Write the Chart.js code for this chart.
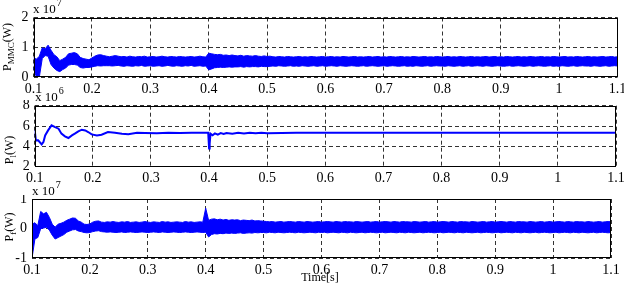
<!DOCTYPE html>
<html>
<head>
<meta charset="utf-8">
<script src="https://cdn.jsdelivr.net/npm/chart.js@4/dist/chart.umd.min.js"></script>
<style>
  html, body { margin: 0; padding: 0; background: #fff; }
  body { width: 624px; height: 284px; position: relative; overflow: hidden; font-family: 'Liberation Serif', 'Times New Roman', serif; }
  .cv { position: absolute; left: 0; }
  .txt { position: absolute; white-space: nowrap; color: #000; font-family: 'Liberation Serif', serif; }
  .rot { transform: translate(-50%, -50%) rotate(-90deg); font-size: 12px; }
  .rot sub { font-size: 9px; vertical-align: -3px; }
  .mul { font-size: 13px; line-height: 13px; }
  .mul span { font-size: 10px; position: relative; top: -7px; margin-left: 1px; }
</style>
</head>
<body>
<canvas id="c1" class="cv" width="624" height="100" style="top:0px"></canvas>
<canvas id="c2" class="cv" width="624" height="95" style="top:100px"></canvas>
<canvas id="c3" class="cv" width="624" height="89" style="top:195px"></canvas>

<div class="txt mul" style="left:33px;top:2px">x 10<span>7</span></div>
<div class="txt mul" style="left:35px;top:90px">x 10<span>6</span></div>
<div class="txt mul" style="left:32px;top:184px">x 10<span>7</span></div>

<div class="txt rot" style="left:8px;top:47px">P<sub>MMC</sub>(W)</div>
<div class="txt rot" style="left:10px;top:150px">P<sub>l</sub>(W)</div>
<div class="txt rot" style="left:10px;top:227px">P<sub>f</sub>(W)</div>

<div class="txt" style="left:320px;top:277px;transform:translate(-50%,-50%);font-size:12px">Time[s]</div>

<script>
// ---------------- data ----------------
const xTickValues = [0.1, 0.2, 0.3, 0.4, 0.5, 0.6, 0.7, 0.8, 0.9, 1.0, 1.1];
const xTickLabels = ['0.1', '0.2', '0.3', '0.4', '0.5', '0.6', '0.7', '0.8', '0.9', '1', '1.1'];

const topYTicks = [0, 1, 2];
const midYTicks = [2, 4, 6, 8];
const botYTicks = [-1, 0, 1];

// envelope series sampled every 5 ms from 0.1 s to 1.1 s
const sampleStart = 0.1;
const sampleStep = 0.005;

// P_MMC (x 10^7 W) : upper / lower envelope of the fast oscillation
const pmmcUpper = [
  0.65,0.60,0.70,0.98,0.95,1.07,0.90,0.75,0.68,0.55,
  0.60,0.66,0.78,0.80,0.82,0.78,0.66,0.62,0.60,0.58,
  0.64,0.70,0.74,0.75,0.72,0.70,0.68,0.70,0.72,0.70,
  0.68,0.69,0.67,0.70,0.68,0.67,0.69,0.68,0.70,0.67,
  0.68,0.69,0.67,0.68,0.70,0.68,0.67,0.69,0.68,0.67,
  0.69,0.68,0.67,0.68,0.69,0.67,0.68,0.70,0.68,0.67,
  0.80,0.78,0.76,0.75,0.76,0.73,0.74,0.72,0.74,0.72,
  0.71,0.73,0.70,0.72,0.71,0.70,0.72,0.70,0.69,0.71,
  0.69,0.70,0.68,0.67,0.69,0.68,0.67,0.69,0.68,0.67,
  0.68,0.69,0.67,0.68,0.67,0.69,0.68,0.67,0.68,0.69,
  0.67,0.68,0.69,0.67,0.68,0.67,0.69,0.68,0.67,0.68,
  0.69,0.67,0.68,0.67,0.68,0.69,0.67,0.68,0.69,0.67,
  0.68,0.67,0.69,0.68,0.67,0.68,0.69,0.67,0.68,0.67,
  0.69,0.68,0.67,0.68,0.69,0.67,0.68,0.67,0.69,0.68,
  0.67,0.68,0.69,0.67,0.68,0.67,0.69,0.68,0.67,0.68,
  0.69,0.67,0.68,0.67,0.68,0.69,0.67,0.68,0.69,0.67,
  0.68,0.67,0.69,0.68,0.67,0.68,0.69,0.67,0.68,0.67,
  0.69,0.68,0.67,0.68,0.69,0.67,0.68,0.67,0.69,0.68,
  0.67,0.68,0.69,0.67,0.68,0.67,0.69,0.68,0.67,0.68,
  0.69,0.67,0.68,0.67,0.68,0.69,0.67,0.68,0.69,0.67,
  0.68
];
const pmmcLower = [
  0.30,0.00,0.00,0.62,0.72,0.70,0.42,0.30,0.22,0.18,
  0.25,0.30,0.40,0.42,0.42,0.40,0.32,0.30,0.32,0.32,
  0.34,0.36,0.38,0.37,0.38,0.38,0.38,0.37,0.38,0.39,
  0.37,0.36,0.38,0.37,0.36,0.38,0.37,0.39,0.36,0.37,
  0.38,0.36,0.37,0.38,0.36,0.37,0.39,0.37,0.36,0.38,
  0.37,0.36,0.38,0.37,0.39,0.36,0.37,0.38,0.36,0.37,
  0.24,0.27,0.31,0.32,0.33,0.32,0.33,0.34,0.33,0.34,
  0.34,0.35,0.33,0.35,0.34,0.35,0.35,0.34,0.36,0.35,
  0.35,0.36,0.37,0.36,0.38,0.37,0.36,0.37,0.38,0.36,
  0.37,0.36,0.38,0.37,0.36,0.37,0.38,0.36,0.37,0.38,
  0.36,0.37,0.38,0.37,0.36,0.38,0.37,0.36,0.37,0.38,
  0.37,0.36,0.37,0.38,0.36,0.37,0.38,0.37,0.36,0.37,
  0.38,0.36,0.37,0.38,0.37,0.36,0.37,0.38,0.36,0.37,
  0.36,0.38,0.37,0.36,0.37,0.38,0.36,0.37,0.38,0.37,
  0.37,0.36,0.38,0.37,0.36,0.37,0.38,0.36,0.37,0.38,
  0.36,0.37,0.38,0.37,0.36,0.38,0.37,0.36,0.37,0.38,
  0.37,0.36,0.37,0.38,0.36,0.37,0.38,0.37,0.36,0.37,
  0.38,0.36,0.37,0.38,0.37,0.36,0.37,0.38,0.36,0.37,
  0.36,0.38,0.37,0.36,0.37,0.38,0.36,0.37,0.38,0.37,
  0.37,0.36,0.38,0.37,0.36,0.37,0.38,0.36,0.37,0.38,
  0.37
];

// P_l (x 10^6 W) : load power, smooth trace
const plTimes = [
  0.100,0.102,0.106,0.112,0.115,0.118,0.123,0.129,0.135,0.141,
  0.146,0.152,0.158,0.164,0.169,0.175,0.181,0.187,0.192,0.198,
  0.207,0.215,0.226,0.238,0.250,0.261,0.276,0.290,0.310,0.330,
  0.350,0.370,0.390,0.3985,0.400,0.4010,0.4025,0.406,0.410,0.415,
  0.420,0.425,0.430,0.440,0.450,0.460,0.470,0.480,0.490,0.500,
  0.550,0.600,0.700,0.800,0.900,1.000,1.100
];
const plValues = [
  5.60,4.59,4.60,4.20,4.43,5.08,5.57,6.07,5.90,5.74,
  5.25,4.98,4.82,5.08,5.25,5.48,5.64,5.57,5.41,5.18,
  5.08,5.15,5.41,5.34,5.25,5.20,5.34,5.32,5.30,5.33,
  5.32,5.33,5.33,5.33,3.80,4.30,5.25,5.10,5.28,5.15,
  5.30,5.22,5.32,5.25,5.33,5.27,5.34,5.28,5.33,5.30,
  5.33,5.33,5.33,5.33,5.33,5.33,5.33
];

// P_f (x 10^7 W) : upper / lower envelope
const pfUpper = [
  0.15,0.20,0.10,0.58,0.50,0.55,0.38,0.15,0.05,0.15,
  0.18,0.22,0.28,0.32,0.36,0.35,0.26,0.22,0.15,0.14,
  0.16,0.22,0.25,0.26,0.22,0.21,0.23,0.22,0.24,0.22,
  0.21,0.23,0.22,0.24,0.21,0.22,0.23,0.21,0.22,0.24,
  0.22,0.21,0.23,0.22,0.21,0.24,0.22,0.23,0.21,0.22,
  0.23,0.22,0.21,0.24,0.22,0.23,0.21,0.22,0.23,0.22,
  0.69,0.28,0.32,0.33,0.30,0.32,0.29,0.31,0.28,0.30,
  0.29,0.30,0.27,0.29,0.28,0.27,0.29,0.26,0.27,0.26,
  0.25,0.24,0.23,0.24,0.22,0.23,0.24,0.22,0.23,0.24,
  0.23,0.22,0.24,0.23,0.22,0.24,0.23,0.22,0.23,0.24,
  0.22,0.23,0.24,0.23,0.22,0.24,0.23,0.22,0.24,0.23,
  0.23,0.22,0.24,0.23,0.22,0.23,0.24,0.22,0.23,0.24,
  0.22,0.23,0.24,0.23,0.22,0.24,0.23,0.22,0.24,0.23,
  0.23,0.22,0.24,0.23,0.22,0.23,0.24,0.22,0.23,0.24,
  0.22,0.23,0.24,0.23,0.22,0.24,0.23,0.22,0.24,0.23,
  0.23,0.22,0.24,0.23,0.22,0.23,0.24,0.22,0.23,0.24,
  0.22,0.23,0.24,0.23,0.22,0.24,0.23,0.22,0.24,0.23,
  0.23,0.22,0.24,0.23,0.22,0.23,0.24,0.22,0.23,0.24,
  0.22,0.23,0.24,0.23,0.22,0.24,0.23,0.22,0.24,0.23,
  0.23,0.22,0.24,0.23,0.22,0.23,0.24,0.22,0.23,0.24,
  0.23
];
const pfLower = [
  -1.00,-0.35,-0.30,0.00,0.02,0.05,-0.05,-0.22,-0.35,-0.30,
  -0.25,-0.20,-0.12,-0.08,-0.04,-0.03,-0.08,-0.10,-0.13,-0.14,
  -0.13,-0.10,-0.08,-0.07,-0.10,-0.11,-0.12,-0.11,-0.12,-0.13,
  -0.12,-0.11,-0.13,-0.12,-0.11,-0.12,-0.13,-0.12,-0.11,-0.12,
  -0.13,-0.12,-0.11,-0.12,-0.13,-0.11,-0.12,-0.13,-0.12,-0.11,
  -0.12,-0.13,-0.12,-0.11,-0.12,-0.13,-0.12,-0.11,-0.12,-0.13,
  -0.12,-0.28,-0.20,-0.17,-0.18,-0.16,-0.17,-0.15,-0.16,-0.15,
  -0.16,-0.15,-0.14,-0.16,-0.15,-0.14,-0.15,-0.13,-0.14,-0.13,
  -0.13,-0.14,-0.12,-0.13,-0.14,-0.12,-0.13,-0.14,-0.13,-0.12,
  -0.13,-0.14,-0.12,-0.13,-0.14,-0.13,-0.12,-0.13,-0.14,-0.12,
  -0.13,-0.12,-0.14,-0.13,-0.12,-0.13,-0.14,-0.12,-0.13,-0.14,
  -0.12,-0.13,-0.14,-0.13,-0.12,-0.14,-0.13,-0.12,-0.13,-0.14,
  -0.13,-0.12,-0.14,-0.13,-0.12,-0.13,-0.14,-0.12,-0.13,-0.14,
  -0.12,-0.13,-0.14,-0.13,-0.12,-0.14,-0.13,-0.12,-0.13,-0.14,
  -0.13,-0.12,-0.14,-0.13,-0.12,-0.13,-0.14,-0.12,-0.13,-0.14,
  -0.12,-0.13,-0.14,-0.13,-0.12,-0.14,-0.13,-0.12,-0.13,-0.14,
  -0.13,-0.12,-0.14,-0.13,-0.12,-0.13,-0.14,-0.12,-0.13,-0.14,
  -0.12,-0.13,-0.14,-0.13,-0.12,-0.14,-0.13,-0.12,-0.13,-0.14,
  -0.13,-0.12,-0.14,-0.13,-0.12,-0.13,-0.14,-0.12,-0.13,-0.14,
  -0.12,-0.13,-0.14,-0.13,-0.12,-0.14,-0.13,-0.12,-0.13,-0.14,
  -0.13
];

// ---------------- rendering ----------------
const BLUE = '#0000ff';
const FONT = { family: "'Liberation Serif', 'Times New Roman', serif", size: 14 };

function sampled(values) {
  return values.map((v, i) => ({ x: +(sampleStart + i * sampleStep).toFixed(4), y: v }));
}
function paired(times, values) {
  return times.map((t, i) => ({ x: t, y: values[i] }));
}

const boxPlugin = {
  id: 'box',
  afterDatasetsDraw(chart) {
    const a = chart.chartArea, ctx = chart.ctx;
    ctx.save();
    ctx.strokeStyle = '#000';
    ctx.lineWidth = 1;
    const l = Math.round(a.left) + 0.5, t = Math.round(a.top) + 0.5;
    const r = Math.round(a.right) - 0.5, b = Math.round(a.bottom) - 0.5;
    ctx.strokeRect(l, t, r - l, b - t);
    ctx.restore();
  }
};

function makeChart(id, geo, yTicks, datasets) {
  const canvas = document.getElementById(id);
  return new Chart(canvas, {
    type: 'line',
    data: { datasets },
    plugins: [boxPlugin],
    options: {
      responsive: false,
      animation: false,
      devicePixelRatio: 1,
      layout: { padding: { left: 0, right: geo.right, top: geo.top, bottom: 0 } },
      plugins: { legend: { display: false }, tooltip: { enabled: false } },
      elements: { point: { radius: 0 }, line: { tension: 0 } },
      scales: {
        x: {
          type: 'linear', min: 0.1, max: 1.1,
          afterBuildTicks: s => { s.ticks = xTickValues.map(v => ({ value: v })); },
          afterFit: s => { s.height = geo.bottom; s.paddingLeft = 0; s.paddingRight = 0; },
          ticks: { autoSkip: false, maxRotation: 0, padding: geo.xpad, color: '#000', font: FONT,
                   callback: (v, i) => xTickLabels[i] },
          grid: { color: '#333', lineWidth: 1, drawTicks: false },
          border: { display: false, dash: [4, 3] }
        },
        y: {
          type: 'linear', min: yTicks[0], max: yTicks[yTicks.length - 1],
          afterBuildTicks: s => { s.ticks = yTicks.map(v => ({ value: v })); },
          afterFit: s => { s.width = geo.left; s.paddingTop = 0; s.paddingBottom = 0; },
          ticks: { autoSkip: false, padding: 5, color: '#000', font: FONT,
                   callback: v => String(v) },
          grid: { color: '#333', lineWidth: 1, drawTicks: false },
          border: { display: false, dash: [4, 3] }
        }
      }
    }
  });
}

function envelope(upper, lower) {
  return [
    { data: sampled(upper), borderColor: BLUE, backgroundColor: BLUE, borderWidth: 1, fill: '+1', pointRadius: 0 },
    { data: sampled(lower), borderColor: BLUE, backgroundColor: BLUE, borderWidth: 1, fill: false, pointRadius: 0 }
  ];
}

makeChart('c1', { left: 33.5, right: 6.5, top: 17.5, bottom: 23, xpad: 4 }, topYTicks, envelope(pmmcUpper, pmmcLower));
makeChart('c2', { left: 34.7, right: 8, top: 5.7, bottom: 28.3, xpad: 3 }, midYTicks,
  [{ data: paired(plTimes, plValues), borderColor: BLUE, borderWidth: 2, fill: false, pointRadius: 0 }]);
makeChart('c3', { left: 32, right: 13, top: 4, bottom: 25.7, xpad: 4 }, botYTicks, envelope(pfUpper, pfLower));
</script>
</body>
</html>
